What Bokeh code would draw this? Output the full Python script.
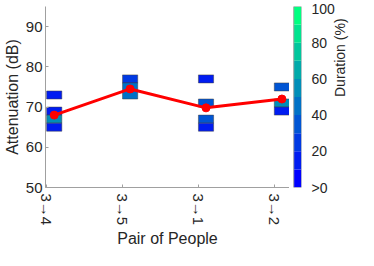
import math
from bokeh.plotting import figure
from bokeh.models import FixedTicker, Range1d, ColumnDataSource, LinearColorMapper, Axis
from bokeh.layouts import row
from bokeh.embed import file_html
from bokeh.resources import INLINE

# ---- data ----
pairs = ["3→4", "3→5", "3→1", "3→2"]
pair_pos = [1, 2, 3, 4]
mean_att = [68.0, 74.5, 69.8, 72.0]

# attenuation bins: pair position, low dB, high dB, duration (%)
bin_pair = [1, 1, 1, 1, 2, 2, 3, 3, 3, 3, 4, 4, 4]
bin_low = [72, 68, 66, 64, 76, 72, 76, 70, 66, 64, 74, 70, 68]
bin_high = [74, 70, 68, 66, 78, 76, 78, 72, 68, 66, 76, 72, 70]
bin_dur = [15, 15, 55, 15, 25, 42, 15, 35, 35, 15, 32, 52, 15]

y_ticks = [50, 60, 70, 80, 90]
cbar_ticks = [0, 20, 40, 60, 80, 100]
cbar_labels = [">0", "20", "40", "60", "80", "100"]
cbar_levels = [0, 10, 20, 30, 40, 50, 60, 70, 80, 90, 100]

# ---- style ----
FONT = "Liberation Sans"
TXT = "#262626"
AX = "#a0a0a0"
n_lev = len(cbar_levels) - 1
palette = ["#%02x%02x%02x" % (0, round(255 * k / (n_lev - 1)), round(255 * (1 - 0.5 * k / (n_lev - 1))))
           for k in range(n_lev)]
mapper = LinearColorMapper(palette=palette, low=cbar_levels[0], high=cbar_levels[-1])

BOX_W = 0.2
H = 250
W_CB = 69
TOP = 6

p = figure(width=358 - W_CB, height=H, output_backend="svg", toolbar_location=None,
           x_range=Range1d(0.985, 4.2), y_range=Range1d(50, 95),
           min_border_left=0, min_border_right=0, min_border_top=TOP, min_border_bottom=0)
p.outline_line_color = None
p.grid.visible = False

src = ColumnDataSource(dict(
    left=[x for x in bin_pair], right=[x + BOX_W for x in bin_pair],
    bottom=bin_low, top=bin_high, dur=bin_dur))
p.quad(left="left", right="right", bottom="bottom", top="top", source=src,
       fill_color={"field": "dur", "transform": mapper},
       line_color="#404040", line_alpha=0.7, line_width=0.7)

lx = [x + BOX_W / 2 for x in pair_pos]
p.line(lx, mean_att, line_color="#ff0000", line_width=3)
p.scatter(lx, mean_att, size=8, fill_color="#ff0000", line_color="#ff0000")

p.xaxis.ticker = FixedTicker(ticks=pair_pos)
p.xaxis.major_label_overrides = {k: v for k, v in zip(pair_pos, pairs)}
p.xaxis.major_label_orientation = "vertical"
p.yaxis.ticker = FixedTicker(ticks=y_ticks)
p.xaxis.axis_label = "Pair of People"
p.yaxis.axis_label = "Attenuation (dB)"
for ax in [p.xaxis[0], p.yaxis[0]]:
    ax.axis_line_color = AX
    ax.major_tick_line_color = AX
    ax.major_tick_in = 3
    ax.major_tick_out = 0
    ax.minor_tick_line_color = None
    ax.major_label_text_font = FONT
    ax.major_label_text_font_size = "15px"
    ax.major_label_text_color = TXT
    ax.axis_label_text_font = FONT
    ax.axis_label_text_font_size = "16px"
    ax.axis_label_text_font_style = "normal"
    ax.axis_label_text_color = TXT
    ax.major_label_standoff = 3
    ax.axis_label_standoff = 2
p.xaxis[0].major_label_standoff = 6

# ---- colorbar: own small figure (frame aligned with the main frame by the row) ----
lo, hi = cbar_levels[0], cbar_levels[-1]
BAR_L, BAR_R = 6, 17
c = figure(width=W_CB, height=H, output_backend="svg", toolbar_location=None,
           x_range=Range1d(0, BAR_R), y_range=Range1d(lo, hi),
           x_axis_location=None, y_axis_location="right",
           min_border=0, min_border_top=TOP)
c.grid.visible = False
c.outline_line_color = None
c.quad(left=BAR_L, right=BAR_R, bottom=cbar_levels[:-1], top=cbar_levels[1:],
       fill_color=palette, line_color=None)
c.quad(left=BAR_L, right=BAR_R, bottom=lo, top=hi, fill_color=None, line_color=AX, line_width=1)
c.yaxis.ticker = FixedTicker(ticks=cbar_ticks)
c.yaxis.major_label_overrides = {k: v for k, v in zip(cbar_ticks, cbar_labels)}
c.yaxis.axis_label = "Duration (%)"
ca = c.yaxis[0]
ca.axis_line_color = None
ca.major_tick_line_color = None
ca.minor_tick_line_color = None
ca.major_label_text_font = FONT
ca.major_label_text_font_size = "14px"
ca.major_label_text_color = TXT
ca.major_label_standoff = 4
ca.axis_label_text_font = FONT
ca.axis_label_text_font_size = "14px"
ca.axis_label_text_font_style = "normal"
ca.axis_label_text_color = TXT
ca.axis_label_standoff = 2
if "axis_label_orientation" in Axis.properties():
    ca.axis_label_orientation = math.pi / 2

layout = row(p, c)
open("out.html", "w").write(file_html(layout, INLINE))
